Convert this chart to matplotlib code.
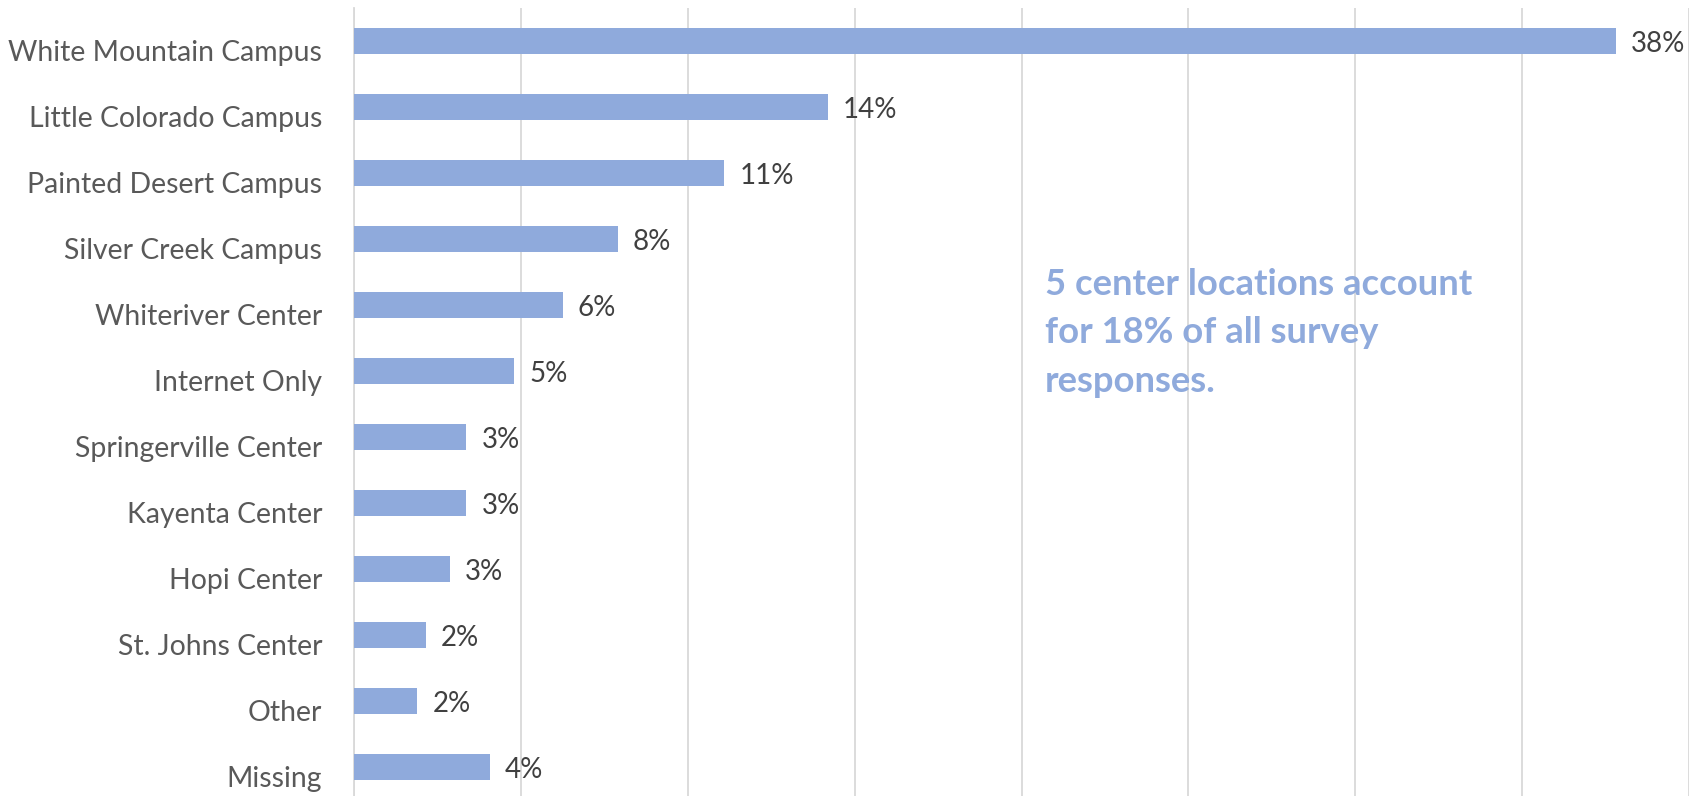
import matplotlib
matplotlib.use("Agg")
import matplotlib.pyplot as plt
from matplotlib.ticker import MultipleLocator
from matplotlib.transforms import ScaledTranslation

categories = ["White Mountain Campus", "Little Colorado Campus", "Painted Desert Campus",
              "Silver Creek Campus", "Whiteriver Center", "Internet Only",
              "Springerville Center", "Kayenta Center", "Hopi Center",
              "St. Johns Center", "Other", "Missing"]
values = [37.8, 14.2, 11.1, 7.9, 6.25, 4.8, 3.37, 3.37, 2.88, 2.15, 1.9, 4.08]
value_labels = ["38%", "14%", "11%", "8%", "6%", "5%", "3%", "3%", "3%", "2%", "2%", "4%"]
note = "5 center locations account\nfor 18% of all survey\nresponses."

plt.rcParams['font.family'] = ['Lato', 'DejaVu Sans']

W, H = 1696, 796
fig = plt.figure(figsize=(W/100, H/100), dpi=100)
left = 354 / W
right = 1689 / W
top = 1 - 8 / H
bottom = 1 - 800 / H
ax = fig.add_axes([left, bottom, right - left, top - bottom])

bar_color = "#8FAADC"
y = list(range(len(categories)))
ax.barh(y, values, height=0.4, color=bar_color, zorder=3)
ax.set_ylim(len(categories) - 0.5, -0.5)
ax.set_xlim(0, 40)
ax.xaxis.set_major_locator(MultipleLocator(5))
ax.grid(axis="x", color="#D9D9D9", linewidth=1.3, zorder=0)
ax.set_axisbelow(True)
ax.set_xticklabels([])
ax.tick_params(axis="x", length=0)
ax.tick_params(axis="y", length=0, pad=23, labelsize=20.4, labelcolor="#595959")
ax.set_yticks(y)
ax.set_yticklabels(categories)
shift = ScaledTranslation(0, -10 / 100, fig.dpi_scale_trans)
for lab in ax.get_yticklabels():
    lab.set_transform(lab.get_transform() + shift)
for s in ["top", "right", "bottom"]:
    ax.spines[s].set_visible(False)
ax.spines["left"].set_color("#D9D9D9")
ax.spines["left"].set_linewidth(1.3)

for yi, v, lab in zip(y, values, value_labels):
    ax.annotate(lab, (v, yi), xytext=(15, -3), textcoords="offset pixels",
                va="center", ha="left", fontsize=20, color="#404040")

fig.text(1045 / W, 1 - 268 / H, note, fontsize=26.2, fontweight="bold",
         color=bar_color, ha="left", va="top", linespacing=1.57)

fig.savefig("out.png", dpi=100)
